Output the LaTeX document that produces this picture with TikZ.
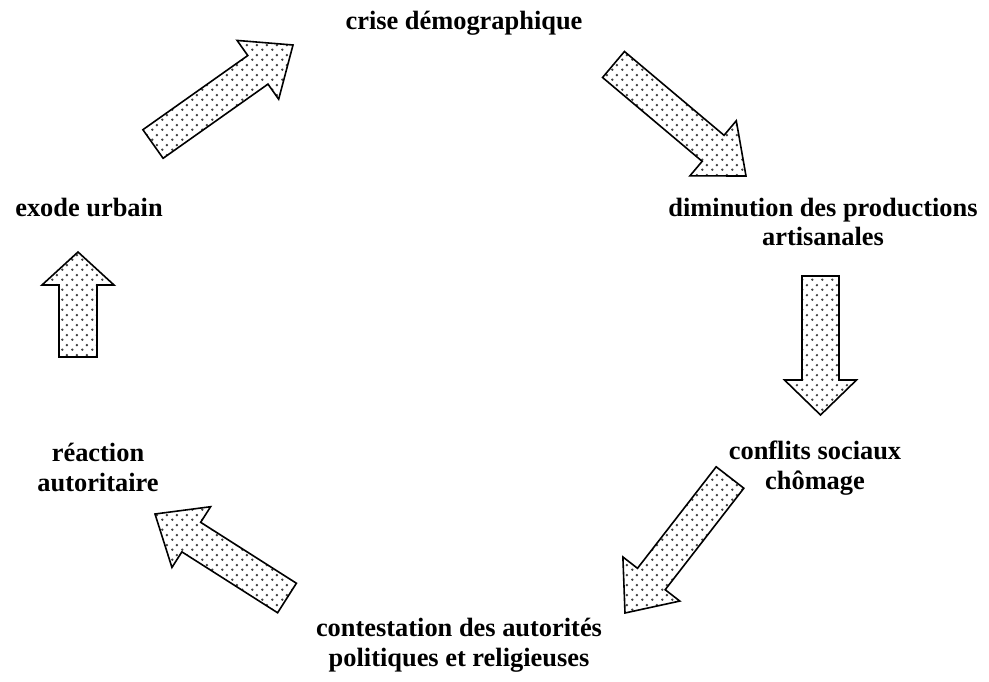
\documentclass[tikz,border=0pt]{standalone}
\usepackage{fontspec}
\setmainfont{Liberation Serif}
\usetikzlibrary{calc,patterns}

% stippled fill of the big arrows
\pgfdeclarepatternformonly{stipple dots}{\pgfpointorigin}{\pgfpoint{10bp}{10bp}}{\pgfpoint{10bp}{10bp}}{%
  \pgfpathcircle{\pgfpoint{2.5bp}{2.5bp}}{1.4bp}%
  \pgfpathcircle{\pgfpoint{7.5bp}{7.5bp}}{1.4bp}%
  \pgfusepath{fill}}

\tikzset{
  cycletext/.style={font=\fontsize{26.5}{30}\selectfont\bfseries, align=center, inner sep=0pt},
  blockarrow/.style={draw=black, line width=1.6bp, line join=miter,
    preaction={fill=white}, pattern=stipple dots, pattern color=black!75},
}

% #1 tail, #2 tip, #3 half shaft width, #4 head length
\newcommand\stipplearrow[4]{%
  \coordinate (#2base) at ($(#2)!#4!(#1)$);
  \draw[blockarrow] ($(#1)!#3!90:(#2)$) -- ($(#2base)!#3!90:(#2)$)
    -- ($(#2base)!36bp!90:(#2)$) -- (#2) -- ($(#2base)!36bp!-90:(#2)$)
    -- ($(#2base)!#3!-90:(#2)$) -- ($(#1)!#3!-90:(#2)$) -- cycle;}

\begin{document}
\begin{tikzpicture}[x=1bp, y=-1bp]
   \useasboundingbox (0,0) rectangle (989,682);

   \node[cycletext] (crise)   at (464,23)    {crise démographique};
   \node[cycletext] (dimin)   at (823,222)   {diminution des productions\\artisanales};
   \node[cycletext] (conflit) at (815,468)   {conflits sociaux\\chômage};
   \node[cycletext] (contest) at (459,645)   {contestation des autorités\\politiques et religieuses};
   \node[cycletext] (reac)    at (98,467.5)  {réaction\\autoritaire};
   \node[cycletext] (exode)   at (89,208)    {exode urbain};

   \coordinate (a1s) at (153,144);   \coordinate (a1e) at (293,45);
   \coordinate (a2s) at (613.5,64.5);\coordinate (a2e) at (746,176);
   \coordinate (a3s) at (820.5,276); \coordinate (a3e) at (820.5,415);
   \coordinate (a4s) at (730,477.5); \coordinate (a4e) at (625,613);
   \coordinate (a5s) at (287,598);   \coordinate (a5e) at (155,514);
   \coordinate (a6s) at (78,357);    \coordinate (a6e) at (78,252);

   \stipplearrow{a1s}{a1e}{17.5bp}{43bp}
   \stipplearrow{a2s}{a2e}{17bp}{43bp}
   \stipplearrow{a3s}{a3e}{18.5bp}{35bp}
   \stipplearrow{a4s}{a4e}{17.5bp}{43bp}
   \stipplearrow{a5s}{a5e}{17.5bp}{43bp}
   \stipplearrow{a6s}{a6e}{19bp}{33bp}
\end{tikzpicture}
\end{document}
